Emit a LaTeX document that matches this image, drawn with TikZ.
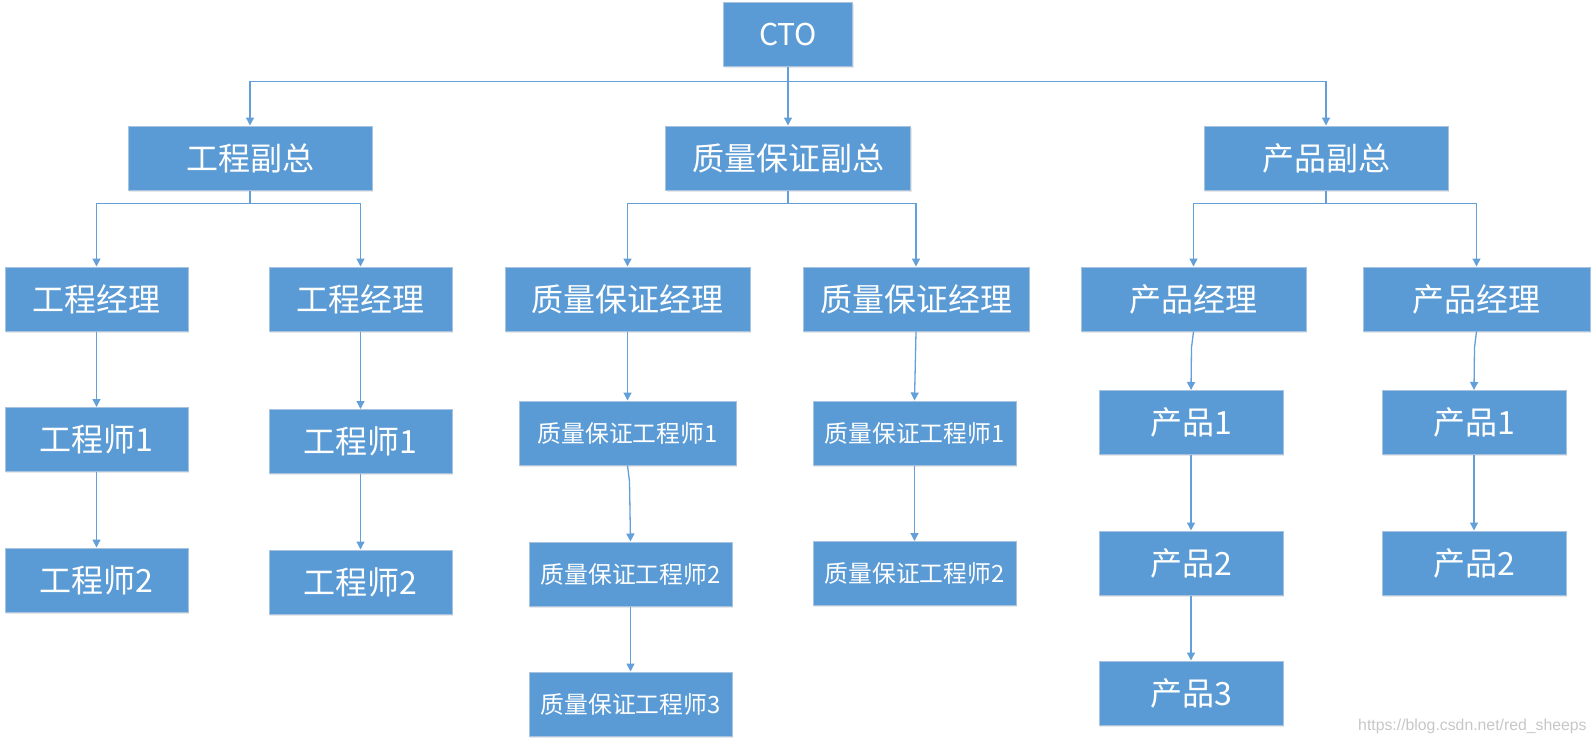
\documentclass[tikz,border=0pt]{standalone}
\usepackage{fontspec}
\newfontfamily\cjk{Noto Sans CJK SC}
\setsansfont{Liberation Sans}
\usetikzlibrary{arrows.meta,shadows}

\definecolor{boxblue}{HTML}{5B9BD5}
\definecolor{boxedge}{HTML}{A8C3E0}
\definecolor{linkblue}{HTML}{639FD8}

\begin{document}
\begin{tikzpicture}[x=0.5pt,y=-0.5pt,>={Triangle[length=4pt,width=4pt]},
    unit/.style={rectangle,draw=boxedge,line width=0.5pt,fill=boxblue,text=white,
      inner sep=0pt,minimum height=32pt,font=\cjk\fontsize{16}{18}\selectfont,
      drop shadow={shadow xshift=0.6pt,shadow yshift=-0.8pt,opacity=0.18}},
    small/.style={unit,font=\cjk\fontsize{11.9}{14}\selectfont},
    link/.style={->,draw=linkblue,line width=0.65pt}]
  \useasboundingbox (0,0) rectangle (1596,744);

  % top
  \node[unit,minimum width=64.5pt,font=\cjk\fontsize{15}{18}\selectfont] (cto) at (788,34.5) {CTO};
  \node[unit,minimum width=122pt] (vpEng) at (250,158) {工程副总};
  \node[unit,minimum width=122.5pt] (vpQa) at (788,158) {质量保证副总};
  \node[unit,minimum width=122pt] (vpPrd) at (1326,158) {产品副总};

  % managers
  \node[unit,minimum width=91.5pt] (mgrE1) at (96.5,299) {工程经理};
  \node[unit,minimum width=91.5pt] (mgrE2) at (360.5,299) {工程经理};
  \node[unit,minimum width=122.5pt] (mgrQ1) at (627.5,299) {质量保证经理};
  \node[unit,minimum width=113pt] (mgrQ2) at (916,299) {质量保证经理};
  \node[unit,minimum width=112.5pt] (mgrP1) at (1193.5,299) {产品经理};
  \node[unit,minimum width=113.5pt] (mgrP2) at (1476.5,299) {产品经理};

  % engineering
  \node[unit,minimum width=91.5pt] (engA1) at (96.5,439.5) {工程师1};
  \node[unit,minimum width=91.5pt] (engA2) at (96.5,580) {工程师2};
  \node[unit,minimum width=91.5pt] (engB1) at (360.5,441.5) {工程师1};
  \node[unit,minimum width=91.5pt] (engB2) at (360.5,582) {工程师2};

  % quality
  \node[small,minimum width=108.5pt] (qaA1) at (627.5,433) {质量保证工程师1};
  \node[small,minimum width=101.5pt] (qaA2) at (630.5,574) {质量保证工程师2};
  \node[small,minimum width=101.5pt] (qaA3) at (630.5,704) {质量保证工程师3};
  \node[small,minimum width=101.5pt] (qaB1) at (914.5,433) {质量保证工程师1};
  \node[small,minimum width=101.5pt] (qaB2) at (914.5,573.5) {质量保证工程师2};

  % product
  \node[unit,minimum width=92pt] (prdA1) at (1191,422.5) {产品1};
  \node[unit,minimum width=92pt] (prdA2) at (1191,563) {产品2};
  \node[unit,minimum width=92pt] (prdA3) at (1191,693) {产品3};
  \node[unit,minimum width=92pt] (prdB1) at (1474,422.5) {产品1};
  \node[unit,minimum width=92pt] (prdB2) at (1474,563) {产品2};

  \draw[link] (cto.south) -- ++(0,14.5) -| (vpEng.north);
  \draw[link] (cto.south) -- ++(0,14.5) -| (vpPrd.north);
  \draw[link] (cto.south) -- (vpQa.north);

  \foreach \vp/\l/\r in {vpEng/mgrE1/mgrE2,vpQa/mgrQ1/mgrQ2,vpPrd/mgrP1/mgrP2}{
    \draw[link] (\vp.south) -- ++(0,13) -| (\l.north);
    \draw[link] (\vp.south) -- ++(0,13) -| (\r.north);
  }

  \foreach \a/\b in {mgrE1/engA1,engA1/engA2,mgrE2/engB1,engB1/engB2,
      mgrQ1/qaA1,qaA2/qaA3,mgrQ2/qaB1,qaB1/qaB2,
      prdA1/prdA2,prdA2/prdA3,prdB1/prdB2}
    \draw[link] (\a.south) -- (\b.north);

  % slightly kinked ones
  \draw[link] (qaA1.south) -- ++(2,16) -- (qaA2.north);
  \draw[link] (mgrP1.south) -- ++(-2,16) -- (prdA1.north);
  \draw[link] (mgrP2.south) -- ++(-2,16) -- (prdB1.north);

  \node[anchor=east,text=black!22,font=\sffamily\fontsize{7.9}{9}\selectfont,inner sep=0pt]
    (mark) at (1587,726) {https://blog.csdn.net/red\_sheeps};
\end{tikzpicture}
\end{document}
